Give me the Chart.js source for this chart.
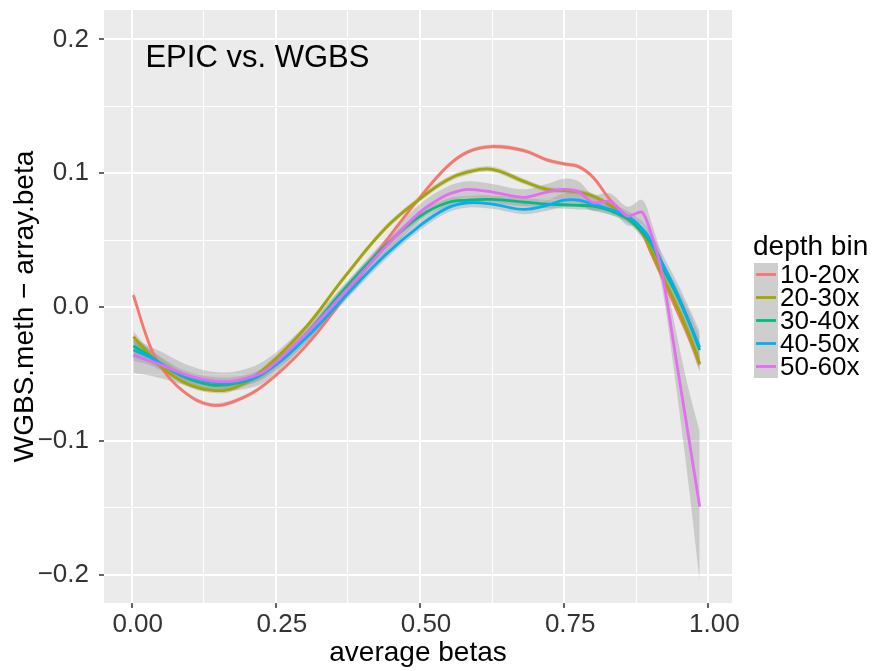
<!DOCTYPE html>
<html>
<head>
<meta charset="utf-8">
<script src="https://cdn.jsdelivr.net/npm/chart.js@4.4.1/dist/chart.umd.min.js"></script>
<style>
  html, body { margin: 0; padding: 0; background: #ffffff; }
  canvas { display: block; }
</style>
</head>
<body>
<canvas id="depthChart" width="877" height="671"></canvas>
<script>
// loess fits of (WGBS.meth - array.beta) against average beta, one per depth bin
var betas = [0.003, 0.03, 0.05, 0.09, 0.137, 0.18, 0.23, 0.30, 0.37, 0.44, 0.50, 0.547, 0.583, 0.625,
             0.68, 0.72, 0.75, 0.775, 0.80, 0.83, 0.86, 0.885, 0.90, 0.92, 0.943, 0.965, 0.985];

var fit10 = [0.009, -0.027, -0.044, -0.063, -0.073, -0.070, -0.058, -0.030, 0.008, 0.049, 0.082, 0.105, 0.116, 0.120,
             0.117, 0.110, 0.107, 0.105, 0.097, 0.080, 0.067, 0.055, 0.041, 0.022, 0.000, -0.021, -0.043];
var fit20 = [-0.022, -0.035, -0.044, -0.056, -0.062, -0.060, -0.046, -0.016, 0.023, 0.059, 0.081, 0.095, 0.101, 0.103,
             0.094, 0.088, 0.087, 0.086, 0.083, 0.076, 0.067, 0.056, 0.043, 0.024, 0.003, -0.019, -0.042];
var fit30 = [-0.029, -0.036, -0.042, -0.052, -0.058, -0.057, -0.049, -0.021, 0.014, 0.046, 0.068, 0.078, 0.080, 0.0805,
             0.0785, 0.077, 0.0765, 0.076, 0.0755, 0.072, 0.066, 0.056, 0.048, 0.030, 0.011, -0.010, -0.032];
var fit40 = [-0.032, -0.037, -0.042, -0.051, -0.056, -0.056, -0.049, -0.024, 0.008, 0.039, 0.061, 0.074, 0.078, 0.077,
             0.073, 0.076, 0.080, 0.080, 0.077, 0.073, 0.068, 0.059, 0.050, 0.033, 0.013, -0.009, -0.030];
var fit50 = [-0.036, -0.040, -0.043, -0.050, -0.055, -0.055, -0.048, -0.021, 0.0115, 0.045, 0.071, 0.084, 0.088, 0.086,
             0.082, 0.086, 0.088, 0.086, 0.078, 0.079, 0.068, 0.071, 0.056, 0.025, -0.036, -0.095, -0.149];

// standard error half-widths for the grey bands
var se10 = [0.003, 0.002, 0.0015, 0.0015, 0.0015, 0.0015, 0.0015, 0.0015, 0.0015, 0.0015, 0.0015, 0.0015, 0.0015, 0.0015,
            0.0015, 0.0015, 0.0015, 0.0015, 0.0015, 0.0015, 0.0015, 0.0015, 0.0015, 0.002, 0.003, 0.004, 0.005];
var se20 = [0.004, 0.003, 0.002, 0.002, 0.002, 0.002, 0.002, 0.002, 0.002, 0.002, 0.002, 0.002, 0.002, 0.002,
            0.002, 0.002, 0.002, 0.002, 0.002, 0.002, 0.002, 0.002, 0.002, 0.003, 0.004, 0.005, 0.006];
var se30 = [0.006, 0.005, 0.004, 0.003, 0.003, 0.003, 0.003, 0.003, 0.003, 0.003, 0.003, 0.003, 0.003, 0.003,
            0.003, 0.003, 0.003, 0.003, 0.003, 0.003, 0.003, 0.004, 0.004, 0.005, 0.006, 0.008, 0.010];
var se40 = [0.008, 0.006, 0.005, 0.004, 0.004, 0.004, 0.004, 0.004, 0.0035, 0.0035, 0.0035, 0.0035, 0.0035, 0.0035,
            0.0035, 0.004, 0.005, 0.005, 0.005, 0.004, 0.004, 0.005, 0.006, 0.007, 0.008, 0.010, 0.012];
var se50 = [0.013, 0.011, 0.010, 0.008, 0.007, 0.007, 0.008, 0.007, 0.006, 0.006, 0.006, 0.006, 0.006, 0.006,
            0.006, 0.006, 0.008, 0.008, 0.006, 0.006, 0.007, 0.009, 0.009, 0.011, 0.020, 0.035, 0.056];

var binLabels = ["10-20x", "20-30x", "30-40x", "40-50x", "50-60x"];
var binColors = ["#F8766D", "#A3A500", "#00BF7D", "#00B0F6", "#E76BF3"];

var xMajor = [0, 0.25, 0.5, 0.75, 1];
var xMinor = [0.125, 0.375, 0.625, 0.875];
var yMajor = [-0.2, -0.1, 0, 0.1, 0.2];
var yMinor = [-0.15, -0.05, 0.05, 0.15];

var fits = [fit10, fit20, fit30, fit40, fit50];
var ses = [se10, se20, se30, se40, se50];

var FONT = "'Liberation Sans', Arial, Helvetica, sans-serif";

function isMajor(list, v) {
	for (var i = 0; i < list.length; i++) {
		if (Math.abs(list[i] - v) < 1e-9) return true;
	}
	return false;
}

function pts(ys, offs, sign) {
	var out = [];
	for (var i = 0; i < betas.length; i++) {
		out.push({x: betas[i], y: ys[i] + (offs ? sign * offs[i] : 0)});
	}
	return out;
}

var datasets = [];
// bands first (drawn underneath)
for (var b = 0; b < fits.length; b++) {
	datasets.push({
		data: pts(fits[b], ses[b], -1),
		borderWidth: 0,
		pointRadius: 0,
		fill: false,
		tension: 0.35,
		order: 2
	});
	datasets.push({
		data: pts(fits[b], ses[b], 1),
		borderWidth: 0,
		pointRadius: 0,
		fill: "-1",
		backgroundColor: "rgba(153,153,153,0.4)",
		tension: 0.35,
		order: 2
	});
}
for (var k = fits.length - 1; k >= 0; k--) {
	datasets.push({
		label: binLabels[k],
		data: pts(fits[k]),
		borderColor: binColors[k],
		borderWidth: 2.8,
		pointRadius: 0,
		fill: false,
		tension: k === 4 ? 0.25 : 0.4,
		order: 1
	});
}

// grey panel, annotation and the right-hand legend
var ggPanel = {
	id: "ggPanel",
	beforeDraw: function(chart) {
		var a = chart.chartArea, ctx = chart.ctx;
		ctx.save();
		ctx.fillStyle = "#EBEBEB";
		ctx.fillRect(a.left, a.top, a.right - a.left, a.bottom - a.top);
		ctx.restore();
	},
	afterDatasetsDraw: function(chart) {
		var ctx = chart.ctx;
		var xs = chart.scales.x, ys = chart.scales.y;
		ctx.save();
		ctx.fillStyle = "#000000";
		ctx.font = "31px " + FONT;
		ctx.textAlign = "center";
		ctx.textBaseline = "middle";
		ctx.fillText("EPIC vs. WGBS", xs.getPixelForValue(0.218), ys.getPixelForValue(0.186));
		ctx.restore();
	},
	afterDraw: function(chart) {
		var ctx = chart.ctx;
		var lx = 754, top = 263, row = 23;
		ctx.save();
		ctx.fillStyle = "#000000";
		ctx.font = "28px " + FONT;
		ctx.textAlign = "left";
		ctx.textBaseline = "middle";
		ctx.fillText("depth bin", lx - 1, 247);
		for (var i = 0; i < binLabels.length; i++) {
			var y0 = top + i * row;
			ctx.fillStyle = "#F2F2F2";
			ctx.fillRect(lx, y0, 24, row);
			ctx.fillStyle = "rgba(153,153,153,0.4)";
			ctx.fillRect(lx, y0, 24, row);
			ctx.strokeStyle = binColors[i];
			ctx.lineWidth = 2.8;
			ctx.beginPath();
			ctx.moveTo(lx + 2, y0 + row / 2);
			ctx.lineTo(lx + 22, y0 + row / 2);
			ctx.stroke();
			ctx.fillStyle = "#000000";
			ctx.font = "26px " + FONT;
			ctx.fillText(binLabels[i], lx + 26, y0 + row / 2 + 1);
		}
		ctx.restore();
	}
};

var ctx = document.getElementById("depthChart").getContext("2d");
var chart = new Chart(ctx, {
	type: "line",
	data: {datasets: datasets},
	plugins: [ggPanel],
	options: {
		responsive: false,
		animation: false,
		events: [],
		layout: {padding: {top: 10, right: 145, left: 0, bottom: 0}},
		plugins: {legend: {display: false}, tooltip: {enabled: false}},
		scales: {
			x: {
				type: "linear",
				min: -0.048,
				max: 1.041,
				afterBuildTicks: function(s) {
					s.ticks = xMajor.concat(xMinor).sort(function(a, b) { return a - b; })
						.map(function(v) { return {value: v}; });
				},
				afterFit: function(s) {
					s.height = 68;
					s.paddingLeft = 0;
					s.paddingRight = 0;
				},
				border: {display: false},
				grid: {
					color: "#FFFFFF",
					lineWidth: function(c) { return isMajor(xMajor, c.tick.value) ? 2 : 1; },
					tickColor: function(c) { return isMajor(xMajor, c.tick.value) ? "#333333" : "rgba(0,0,0,0)"; },
					tickWidth: 1.5,
					tickLength: 5
				},
				ticks: {
					autoSkip: false,
					maxRotation: 0,
					minRotation: 0,
					padding: 1,
					labelOffset: 6,
					color: "#333333",
					font: {family: FONT, size: 26},
					callback: function(v) { return isMajor(xMajor, v) ? v.toFixed(2) : ""; }
				},
				title: {
					display: true,
					text: "average betas",
					color: "#000000",
					font: {family: FONT, size: 28},
					padding: {top: 0, bottom: 1}
				}
			},
			y: {
				type: "linear",
				min: -0.221,
				max: 0.222,
				afterBuildTicks: function(s) {
					s.ticks = yMajor.concat(yMinor).sort(function(a, b) { return a - b; })
						.map(function(v) { return {value: v}; });
				},
				afterFit: function(s) {
					s.width = 104;
					s.paddingTop = 0;
					s.paddingBottom = 0;
				},
				border: {display: false},
				grid: {
					color: "#FFFFFF",
					lineWidth: function(c) { return isMajor(yMajor, c.tick.value) ? 2 : 1; },
					tickColor: function(c) { return isMajor(yMajor, c.tick.value) ? "#333333" : "rgba(0,0,0,0)"; },
					tickWidth: 1.5,
					tickLength: 5
				},
				ticks: {
					autoSkip: false,
					padding: 10,
					color: "#333333",
					font: {family: FONT, size: 26},
					callback: function(v) {
						if (!isMajor(yMajor, v)) return "";
						return v.toFixed(1).replace("-", "\u2212");
					}
				},
				title: {
					display: true,
					text: "WGBS.meth \u2212 array.beta",
					color: "#000000",
					font: {family: FONT, size: 28},
					padding: {top: 8, bottom: 0}
				}
			}
		}
	}
});
</script>
</body>
</html>
